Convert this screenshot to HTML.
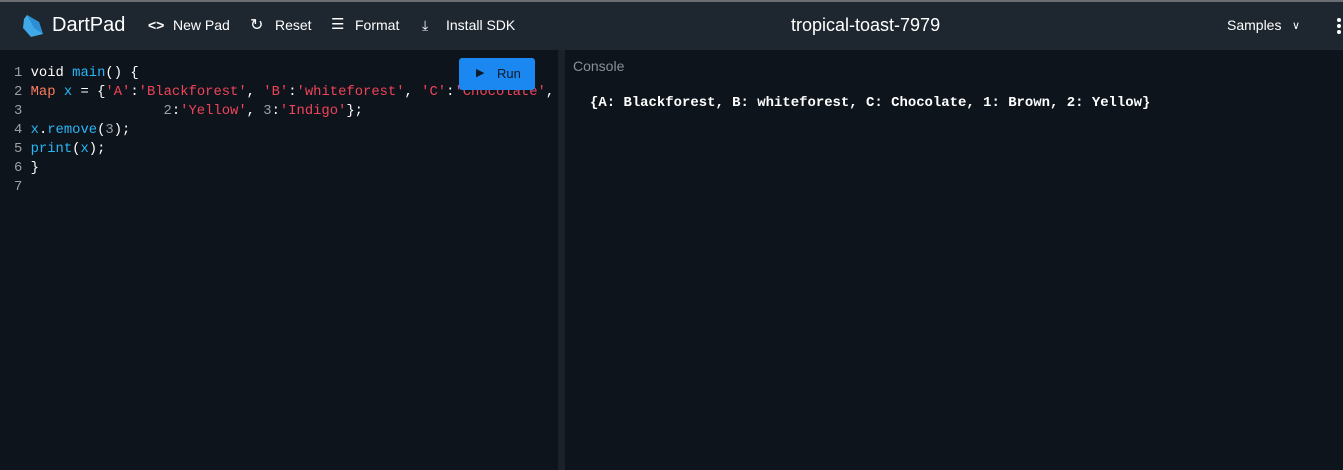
<!DOCTYPE html>
<html><head><meta charset="utf-8"><style>
*{margin:0;padding:0;box-sizing:border-box}
body{width:1343px;height:470px;background:#0e141c;overflow:hidden;font-family:"Liberation Sans",sans-serif;position:relative}
.top{position:absolute;left:0;top:0;width:1343px;height:2px;background:#6b6f74}
.hdr{position:absolute;left:0;top:2px;width:1343px;height:48px;background:#1e2630;color:#fff}
.hdr span{position:absolute;top:15px;font-size:14px}
.code{position:absolute;left:14px;top:64px;font-family:"Liberation Mono",monospace;font-size:13.85px;line-height:19px;color:#fff;white-space:pre}
.ln{color:#9aa0a6}
.k{color:#fff}.f{color:#29b6f6}.t{color:#ff7a5c}.s{color:#f0435a}.n{color:#9aa0a6}.p{color:#ddd}
.div{position:absolute;left:558px;top:50px;width:7px;height:420px;background:#1a2129}
.run{position:absolute;left:459px;top:58px;width:76px;height:32px;background:#1a88f0;border-radius:3px;color:#0d1b2a;font-size:13px}
.console{position:absolute;left:573px;top:58px;color:#8a9098;font-size:14px}
.out{position:absolute;left:590px;top:95px;font-family:"Liberation Mono",monospace;font-size:13.95px;color:#fff;font-weight:bold;white-space:pre}
</style></head><body>
<div class="top"></div>
<div class="hdr">
<svg style="position:absolute;left:22px;top:12px" width="22" height="24" viewBox="0 0 22 24"><path d="M5 1 L17 8 L21 20 L9 23 L1 14 L2 5 Z" fill="#40a9e8"/><path d="M5 1 L17 8 L21 20 L12 14 Z" fill="#2b8fd6"/></svg>
<span style="left:52px;top:12px;font-size:20px">DartPad</span>
<span style="left:148px;font-weight:bold">&lt;&gt;</span><span style="left:173px">New Pad</span>
<span style="left:250px;font-size:16px;top:13px">&#x21bb;</span><span style="left:275px">Reset</span>
<span style="left:331px;font-size:15px;top:13px">&#x2630;</span><span style="left:355px">Format</span>
<span style="left:422px;font-size:14px">&#x2913;</span><span style="left:446px">Install SDK</span>
<span style="left:791px;top:13px;font-size:18px">tropical-toast-7979</span>
<span style="left:1227px">Samples</span><span style="left:1292px;font-size:11px;top:17px">&#x2228;</span>
<div style="position:absolute;left:1337px;top:16px;width:4px;height:4px;background:#fff;border-radius:2px;box-shadow:0 6px 0 #fff,0 12px 0 #fff"></div>
</div>
<div class="code"><span class="ln">1 </span><span class="k">void</span> <span class="f">main</span>() {
<span class="ln">2 </span><span class="t">Map</span> <span class="f">x</span> = {<span class="s">'A'</span>:<span class="s">'Blackforest'</span>, <span class="s">'B'</span>:<span class="s">'whiteforest'</span>, <span class="s">'C'</span>:<span class="s">'Chocolate'</span>,
<span class="ln">3 </span>                <span class="n">2</span>:<span class="s">'Yellow'</span>, <span class="n">3</span>:<span class="s">'Indigo'</span>};
<span class="ln">4 </span><span class="f">x</span>.<span class="f">remove</span>(<span class="n">3</span>);
<span class="ln">5 </span><span class="f">print</span>(<span class="f">x</span>);
<span class="ln">6 </span>}
<span class="ln">7 </span></div>
<div class="run"><span style="position:absolute;left:17px;top:8px;font-size:11px">&#x25B6;</span><span style="position:absolute;left:38px;top:8px">Run</span></div>
<div class="div"></div>
<div class="console">Console</div>
<div class="out">{A: Blackforest, B: whiteforest, C: Chocolate, 1: Brown, 2: Yellow}</div>
</body></html>
